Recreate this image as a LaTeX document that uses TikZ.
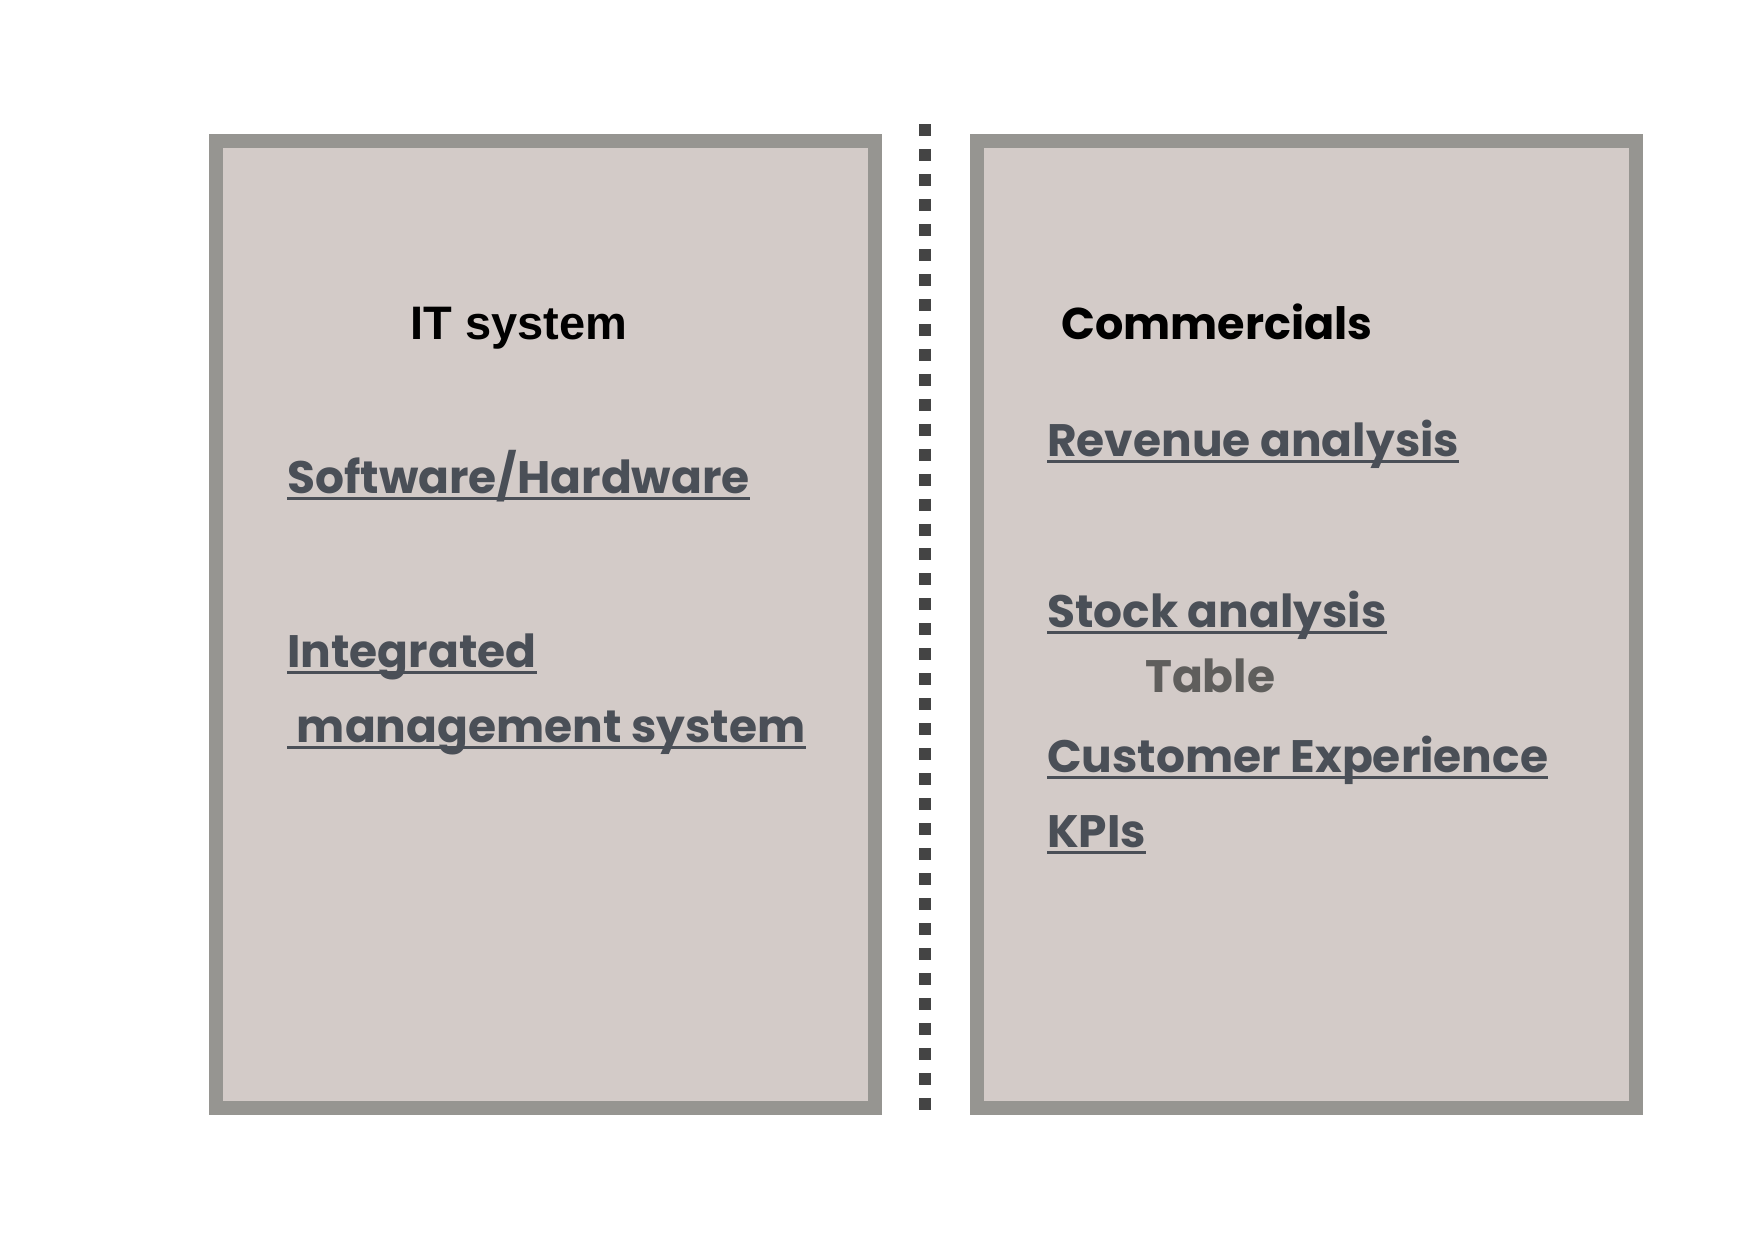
\documentclass[tikz,border=0pt]{standalone}
\usepackage{fontspec}
\usepackage{tikz}
\newfontfamily\spartan{Poppins}
\newfontfamily\headfont{Liberation Sans}
\definecolor{panelfill}{HTML}{D3CBC8}
\definecolor{panelline}{HTML}{969591}
\definecolor{itemgray}{HTML}{4A4F57}
\definecolor{tablegray}{HTML}{5F5E5C}
\definecolor{dotgray}{HTML}{444444}

\begin{document}
\begin{tikzpicture}[x=1pt,y=-1pt,
  panel/.style={draw=panelline,fill=panelfill,line width=14pt},
  item/.style={anchor=base west,inner sep=0pt,text=itemgray,
    font=\spartan\bfseries\fontsize{45.5}{48}\selectfont},
  head/.style={anchor=base west,inner sep=0pt,text=black},
  uline/.style={itemgray,line width=3pt},
  divider/.style={dotgray,line width=12pt,dash pattern=on 12pt off 12.97pt}]
\useasboundingbox[fill=white] (0,0) rectangle (1748,1240);
% two panels and the divider between them
\draw[panel] (216,141) rectangle (875,1108);
\draw[panel] (977,141) rectangle (1636,1108);
\coordinate (dtop) at (925,124); \coordinate (dbot) at (925,1110);
\draw[divider] (dtop) -- (dbot);
% left panel
\node[head,font=\headfont\bfseries\fontsize{47}{50}\selectfont] (it) at (410,339) {IT system};
\node[item] (sw) at (287,493) {Software/Hardware};
\node[item] (ims1) at (287,667) {Integrated};
\node[item] (ims2) at (287,742) {\ management system};
% right panel
\node[head,font=\spartan\bfseries\fontsize{44.5}{46}\selectfont] (com) at (1061,339) {Commercials};
\node[item] (rev) at (1047,456) {Revenue analysis};
\node[item] (stock) at (1047,627) {Stock analysis};
\node[item,text=tablegray] (tab) at (1145,692) {Table};
\node[item] (cx) at (1047,772) {Customer Experience};
\node[item] (kpi) at (1047,847) {KPIs};
% underlines
\foreach \n in {sw,ims1,ims2,rev,stock,cx,kpi}
  \draw[uline] ([yshift=-5pt]\n.base west) -- ([yshift=-5pt]\n.base east);
\end{tikzpicture}
\end{document}
